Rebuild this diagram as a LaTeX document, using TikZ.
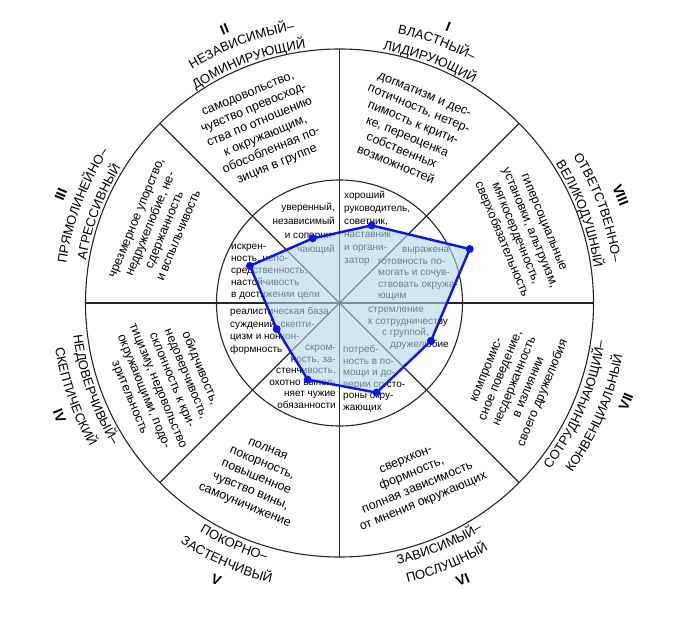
\documentclass[tikz,border=0pt]{standalone}
\usepackage{fontspec}
\setmainfont{Liberation Sans}
\usepackage{xcolor}
\usepackage{tikz}
\usetikzlibrary{calc,decorations.text}

\definecolor{shadefill}{RGB}{178,214,232}
\definecolor{profileblue}{RGB}{10,20,235}
\newcommand{\octfont}{\fontsize{13}{13}\selectfont}

\begin{document}
\begin{tikzpicture}[
    x=1pt, y=1pt,
    frame/.style={draw=black!85, line width=1.1pt},
    arclabel/.style={decorate, decoration={text along path, text align=center}},
    octnum/.style={inner sep=0pt, font=\fontsize{14}{14}\selectfont\bfseries},
    ringtext/.style={align=center, inner sep=0pt, font=\fontsize{12.5}{15.2}\selectfont},
    coretext/.style={inner sep=0pt, font=\fontsize{10}{12}\selectfont},
    profile/.style={draw=profileblue, line width=2.4pt, line join=round},
    dot/.style={circle, fill=profileblue, inner sep=0pt, minimum size=8pt}
]
    \useasboundingbox (-339.5,-315) rectangle (336.5,303);

    \draw [frame] (0,0) circle [radius=254pt];
    \draw [frame] (0,0) circle [radius=123pt];
    \draw [frame] (180:254) -- (0:254);
    \draw [frame] (270:254) -- (90:254);
    \draw [frame] (225:254) -- (45:254);
    \draw [frame] (135:254) -- (315:254);

    \path [arclabel, decoration={text={|\octfont|ВЛАСТНЫЙ–}}] (109.5:276) arc [start angle=109.5, end angle=29.5, radius=276];
    \path [arclabel, decoration={text={|\octfont|ЛИДИРУЮЩИЙ}}] (109.5:257) arc [start angle=109.5, end angle=29.5, radius=257];
    \path [arclabel, decoration={text={|\octfont|НЕЗАВИСИМЫЙ–}}] (150.8:276) arc [start angle=150.8, end angle=70.8, radius=276];
    \path [arclabel, decoration={text={|\octfont|ДОМИНИРУЮЩИЙ}}] (150.8:257) arc [start angle=150.8, end angle=70.8, radius=257];
    \path [arclabel, decoration={text={|\octfont|ПРЯМОЛИНЕЙНО–}}] (199.3:276) arc [start angle=199.3, end angle=119.3, radius=276];
    \path [arclabel, decoration={text={|\octfont|АГРЕССИВНЫЙ}}] (199.3:257) arc [start angle=199.3, end angle=119.3, radius=257];
    \path [arclabel, decoration={text={|\octfont|ОТВЕТСТВЕННО–}}] (60.3:276) arc [start angle=60.3, end angle=-19.7, radius=276];
    \path [arclabel, decoration={text={|\octfont|ВЕЛИКОДУШНЫЙ}}] (60.3:257) arc [start angle=60.3, end angle=-19.7, radius=257];
    \path [arclabel, decoration={text={|\octfont|НЕДОВЕРЧИВЫЙ–}}] (159.5:268) arc [start angle=159.5, end angle=239.5, radius=268];
    \path [arclabel, decoration={text={|\octfont|СКЕПТИЧЕСКИЙ}}] (159.5:288) arc [start angle=159.5, end angle=239.5, radius=288];
    \path [arclabel, decoration={text={|\octfont|ПОКОРНО–}}] (206.3:268) arc [start angle=206.3, end angle=286.3, radius=268];
    \path [arclabel, decoration={text={|\octfont|ЗАСТЕНЧИВЫЙ}}] (206.3:288) arc [start angle=206.3, end angle=286.3, radius=288];
    \path [arclabel, decoration={text={|\octfont|ЗАВИСИМЫЙ–}}] (252.4:268) arc [start angle=252.4, end angle=332.4, radius=268];
    \path [arclabel, decoration={text={|\octfont|ПОСЛУШНЫЙ}}] (252.4:288) arc [start angle=252.4, end angle=332.4, radius=288];
    \path [arclabel, decoration={text={|\octfont|СОТРУДНИЧАЮЩИЙ–}}] (296.7:268) arc [start angle=296.7, end angle=376.7, radius=268];
    \path [arclabel, decoration={text={|\octfont|КОНВЕНЦИАЛЬНЫЙ}}] (296.7:288) arc [start angle=296.7, end angle=376.7, radius=288];

    \node [octnum, rotate=-22.5] (numI) at (68.5:297) {I};
    \node [octnum, rotate=22.5] (numII) at (112.8:297) {II};
    \node [octnum, rotate=67.5] (numIII) at (158.7:299) {III};
    \node [octnum, rotate=-67.5] (numIV) at (202:302) {IV};
    \node [octnum, rotate=-22.5] (numV) at (246:303) {V};
    \node [octnum, rotate=22.5] (numVI) at (294:303) {VI};
    \node [octnum, rotate=67.5] (numVII) at (341:303) {VII};
    \node [octnum, rotate=-67.5] (numVIII) at (21:301) {VIII};

    \node [ringtext, rotate=-22.5] (ringI) at (67.8:187) {догматизм и дес-\\потичность, нетер-\\пимость к крити-\\ке, переоценка\\собственных\\возможностей};
    \node [ringtext, rotate=22.5] (ringII) at (113.9:189) {самодовольство,\\чувство превосход-\\ства по отношению\\к окружающим,\\обособленная по-\\зиция в группе};
    \node [ringtext, rotate=67.5] (ringIII) at (157.3:197) {чрезмерное упорство,\\недружелюбие, не-\\сдержанность\\и вспыльчивость};
    \node [ringtext, rotate=-67.5] (ringIV) at (204.6:192) {обидчивость,\\недоверчивость,\\склонность к кри-\\тицизму, недовольство\\окружающими, подо-\\зрительность};
    \node [ringtext, rotate=-22.5] (ringV) at (244.5:194) {полная\\покорность,\\повышенное\\чувство вины,\\самоуничижение};
    \node [ringtext, rotate=22.5] (ringVI) at (292.9:194) {сверхкон-\\формность,\\полная зависимость\\от мнения окружающих};
    \node [ringtext, rotate=67.5] (ringVII) at (335.9:193) {компромис-\\сное поведение,\\несдержанность\\в излиянии\\своего дружелюбия};
    \node [ringtext, rotate=-67.5] (ringVIII) at (21.5:196) {гиперсоциальные\\установки, альтруизм,\\мягкосердечность,\\сверхобязательность};

    \node [coretext, align=left, anchor=north west, font=\fontsize{10}{13}\selectfont] (coreI) at (4.5,112) {хороший\\руководитель,\\советчик,\\наставник\\и органи-\\затор};
    \node [coretext, align=right, anchor=north east, font=\fontsize{10}{14}\selectfont] (coreII) at (-4.5,100) {уверенный,\\независимый\\и соперни-\\чающий};
    \node [coretext, align=left, anchor=north west] (coreIII) at (-108.5,59) {искрен-\\ность, непо-\\средственность,\\настойчивость\\в достижении цели};
    \node [coretext, align=left, anchor=north west, font=\fontsize{10}{12.5}\selectfont] (coreIV) at (-109.5,-4) {реалистическая база\\суждений, скепти-\\цизм и нонкон-\\формность};
    \node [coretext, align=right, anchor=north east, font=\fontsize{10}{11.6}\selectfont] (coreV) at (-3.5,-42) {скром-\\ность, за-\\стенчивость,\\охотно выпол-\\няет чужие\\обязанности};
    \node [coretext, align=left, anchor=north west, font=\fontsize{10}{11.6}\selectfont] (coreVI) at (3.5,-42) {потреб-\\ность в по-\\мощи и до-\\верии со сто-\\роны окру-\\жающих};
    \node [coretext, align=left, anchor=north west, font=\fontsize{10}{11.5}\selectfont] (coreVII) at (28.5,-4) {стремление\\к сотрудничеству\\\hspace*{14pt}с группой,\\\hspace*{22pt}дружелюбие};
    \node [coretext, align=left, anchor=north west, font=\fontsize{10}{11.6}\selectfont] (coreVIII) at (38.5,56) {\hspace*{24pt}выражена\\готовность по-\\могать и сочув-\\ствовать окружа-\\ющим};

    \coordinate (p1) at (67.5:84);
    \coordinate (p2) at (22.5:141);
    \coordinate (p3) at (-22.5:99);
    \coordinate (p4) at (-67.5:97);
    \coordinate (p5) at (247.5:83);
    \coordinate (p6) at (202.5:68);
    \coordinate (p7) at (157.5:97);
    \coordinate (p8) at (112.5:70);

    \fill [shadefill, fill opacity=0.6] (p1) -- (p2) -- (p3) -- (p4) -- (p5) -- (p6) -- (p7) -- (p8) -- cycle;
    \draw [profile] (p1) -- (p2) -- (p3) -- (p4) -- (p5) -- (p6) -- (p7) -- (p8) -- cycle;

    \node [dot] (d1) at (p1) {};
    \node [dot] (d2) at (p2) {};
    \node [dot] (d3) at (p3) {};
    \node [dot] (d4) at (p4) {};
    \node [dot] (d5) at (p5) {};
    \node [dot] (d6) at (p6) {};
    \node [dot] (d7) at (p7) {};
    \node [dot] (d8) at (p8) {};
\end{tikzpicture}
\end{document}
